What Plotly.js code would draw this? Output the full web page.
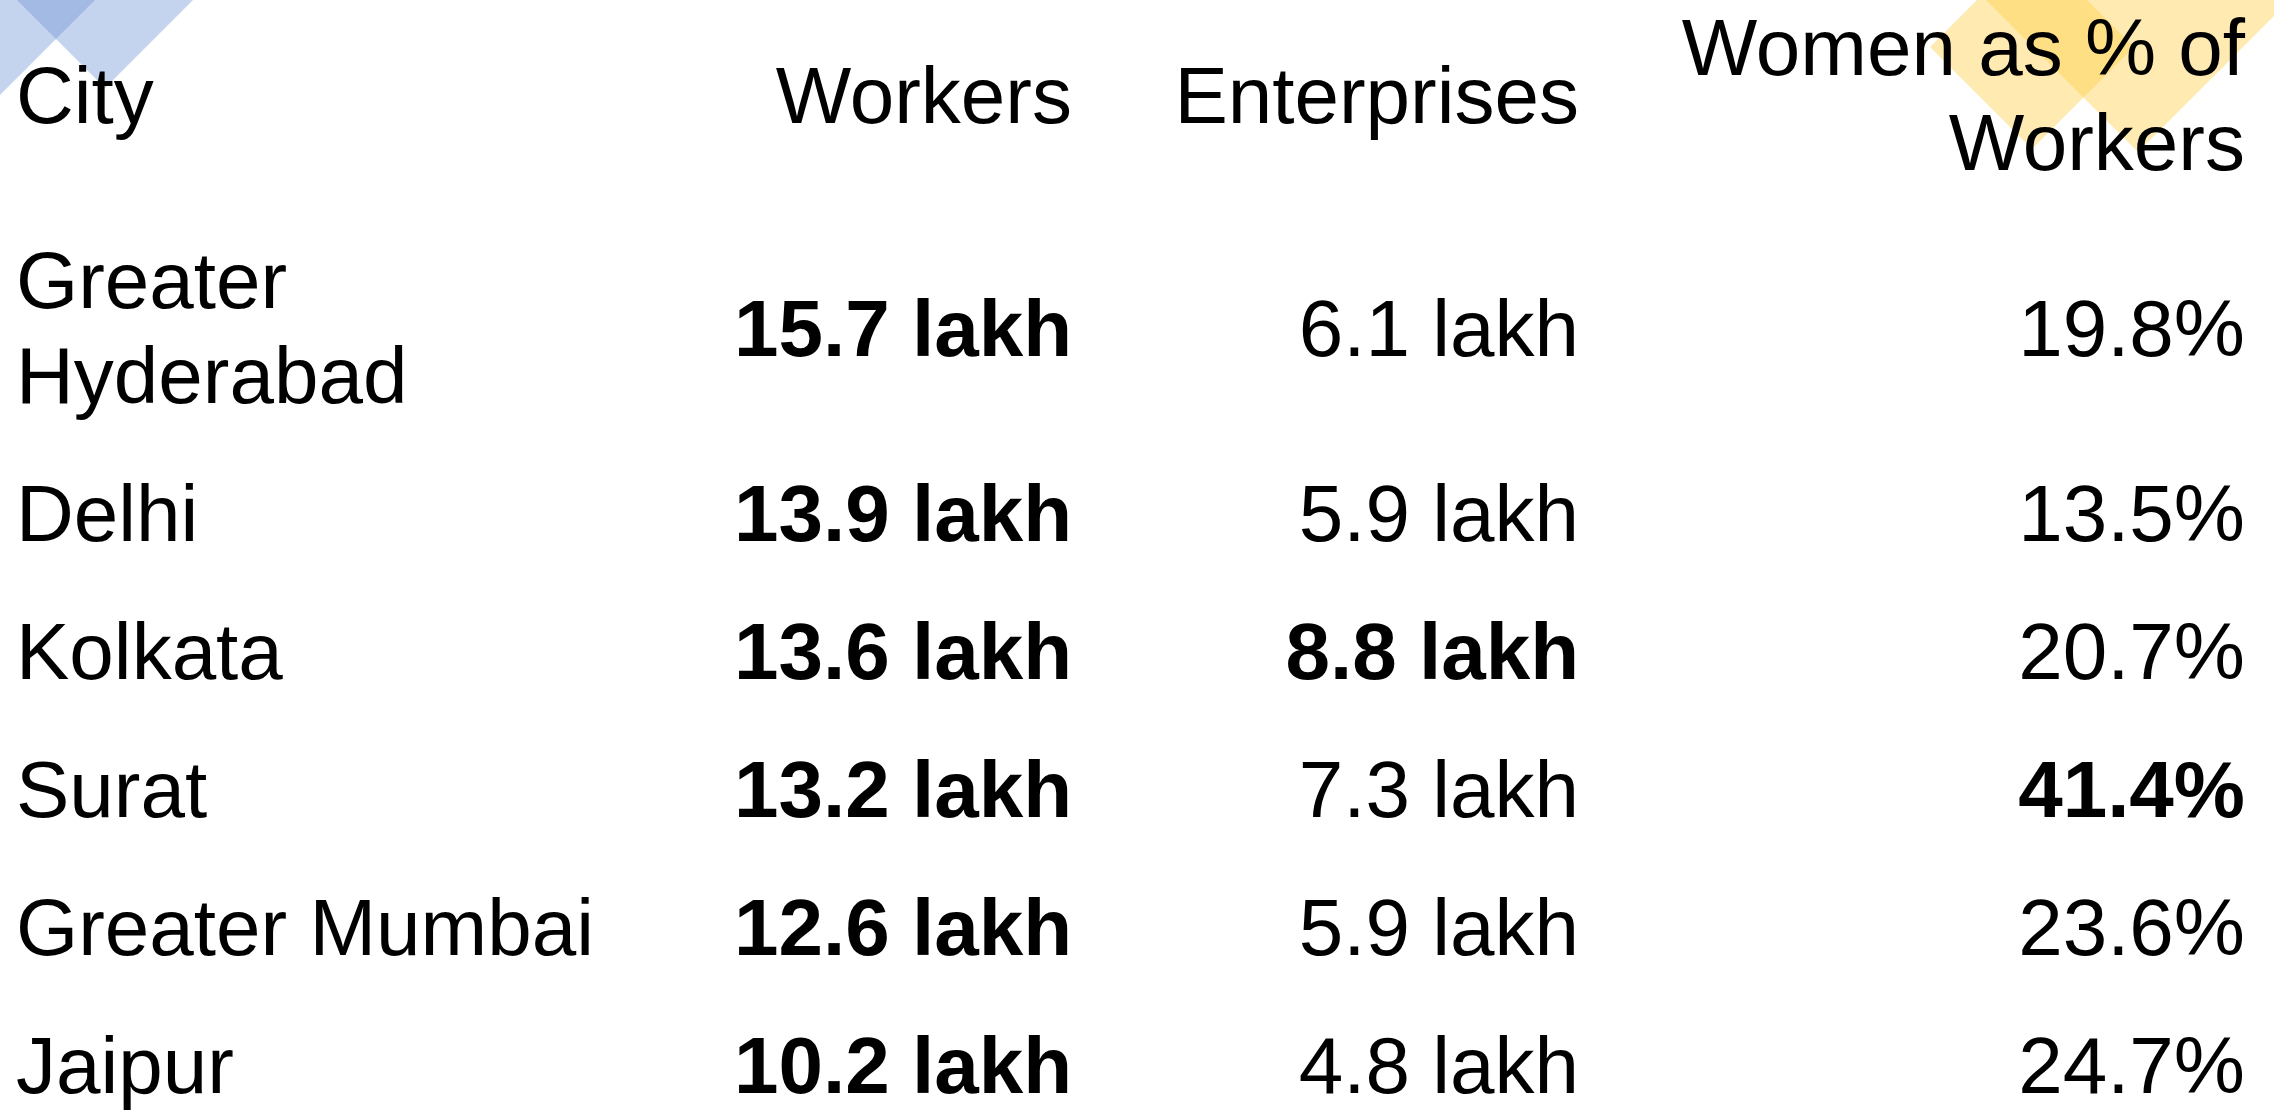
<!DOCTYPE html>
<html><head><meta charset="utf-8">
<script src="https://cdn.plot.ly/plotly-3.0.1.min.js"></script>
<style>html,body{margin:0;padding:0;background:#fff;overflow:hidden}</style>
</head><body><div id="chart" style="width:2274px;height:1110px"></div>
<script>
// ---- data ----
const headers = ["City", "Workers", "Enterprises", "Women as % of<br>Workers"];
const cities = ["Greater<br>Hyderabad", "Delhi", "Kolkata", "Surat", "Greater Mumbai", "Jaipur"];
const workersLakh = [15.7, 13.9, 13.6, 13.2, 12.6, 10.2];
const enterprisesLakh = [6.1, 5.9, 8.8, 7.3, 5.9, 4.8];
const womenPct = [19.8, 13.5, 20.7, 41.4, 23.6, 24.7];

// ---- layout constants ----
const W = 2274, H = 1110, FS = 80;
const colX = [16, 1072, 1579, 2245];
const TOP = -14, ROW_H = 138, LINE_H = 95;
const FONT = "Liberation Sans, Arial, Helvetica, sans-serif";

const nLines = s => s.split("<br>").length;
const rows = [headers.map(nLines)].concat(cities.map(c => [nLines(c)]));
const centers = [];
let y = TOP;
rows.forEach(r => {
  const h = ROW_H + LINE_H * (Math.max(...r) - 1);
  centers.push(y + h / 2);
  y += h;
});
const headY = centers[0];
const bodyY = centers.slice(1);

const lakh = v => v.toFixed(1) + " lakh";
const pct = v => v.toFixed(1) + "%";
const maxE = Math.max(...enterprisesLakh), maxW = Math.max(...womenPct);

// split multi-line cells into separate lines with table line spacing
function textTrace(xs, ys, texts, pos, bolds) {
  const X = [], Y = [], T = [], P = [];
  texts.forEach((t, i) => {
    const lines = t.split("<br>");
    const n = lines.length;
    lines.forEach((ln, j) => {
      X.push(xs[i]);
      Y.push(ys[i] + (j - (n - 1) / 2) * LINE_H);
      T.push(bolds && bolds[i] ? "<b>" + ln + "</b>" : ln);
      P.push(Array.isArray(pos) ? pos[i] : pos);
    });
  });
  return {
    type: "scatter", mode: "text", x: X, y: Y, text: T,
    textposition: P, cliponaxis: false, hoverinfo: "none",
    textfont: {family: FONT, size: FS, color: "#000000"}
  };
}

const traces = [
  textTrace(colX, headers.map(() => headY), headers,
            ["middle right", "middle left", "middle left", "middle left"]),
  textTrace(cities.map(() => colX[0]), bodyY, cities, "middle right"),
  textTrace(workersLakh.map(() => colX[1]), bodyY, workersLakh.map(lakh), "middle left",
            workersLakh.map(() => true)),
  textTrace(enterprisesLakh.map(() => colX[2]), bodyY, enterprisesLakh.map(lakh), "middle left",
            enterprisesLakh.map(v => v === maxE)),
  textTrace(womenPct.map(() => colX[3]), bodyY, womenPct.map(pct), "middle left",
            womenPct.map(v => v === maxW))
];

function diamond(cx, cy, d, color) {
  return {
    type: "path", xref: "x", yref: "y", layer: "below",
    path: `M ${cx - d},${cy} L ${cx},${cy - d} L ${cx + d},${cy} L ${cx},${cy + d} Z`,
    fillcolor: color, line: {width: 0}
  };
}
const BLUE = "rgba(110,148,213,0.4)", YELLOW = "rgba(255,205,63,0.4)";

const layout = {
  width: W, height: H,
  margin: {l: 0, r: 0, t: 0, b: 0, pad: 0},
  paper_bgcolor: "#ffffff", plot_bgcolor: "#ffffff",
  showlegend: false, hovermode: false,
  xaxis: {range: [0, W], visible: false, fixedrange: true},
  yaxis: {range: [H, 0], visible: false, fixedrange: true},
  shapes: [
    diamond(0, 0, 95, BLUE),
    diamond(105, -7, 95, BLUE),
    diamond(2032, 47, 102, YELLOW),
    diamond(2138, -48, 200, YELLOW)
  ]
};

Plotly.newPlot("chart", traces, layout, {staticPlot: true, displayModeBar: false});
</script>
</body></html>
